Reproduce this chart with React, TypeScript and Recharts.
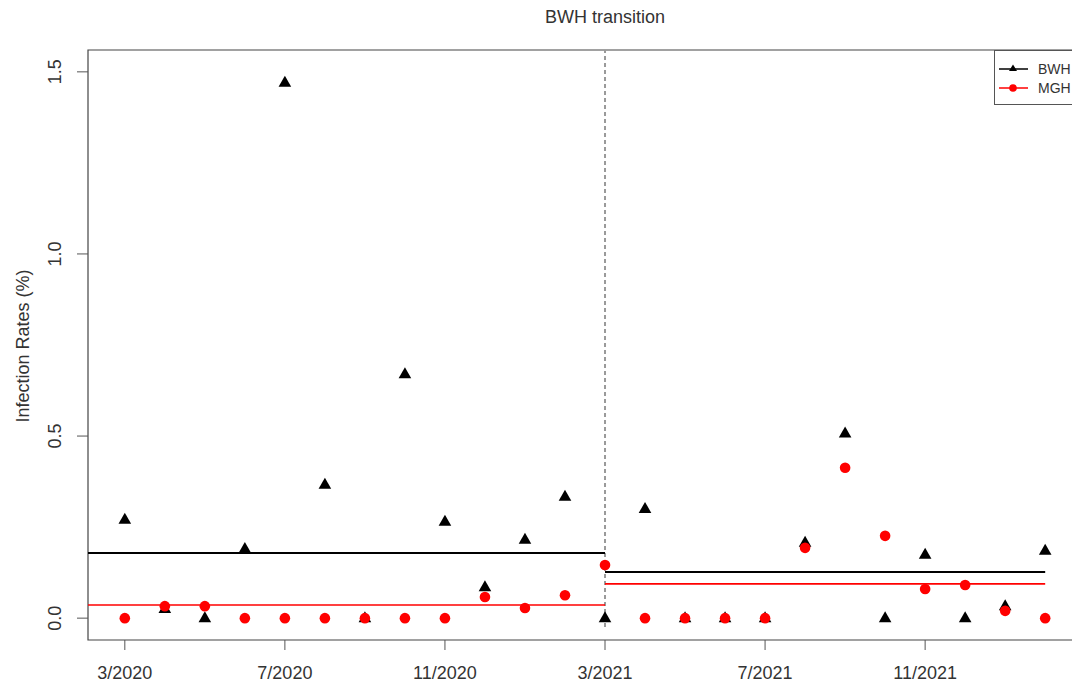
import React from 'react';
import {
  ComposedChart,
  Scatter,
  XAxis,
  YAxis,
  ReferenceLine,
  ReferenceArea,
} from 'recharts';

// Month index (0 = 3/2020 ... 23 = 2/2022)
const monthIndex = [0, 1, 2, 3, 4, 5, 6, 7, 8, 9, 10, 11, 12, 13, 14, 15, 16, 17, 18, 19, 20, 21, 22, 23];
const bwhRates = [0.27, 0.025, 0.0, 0.19, 1.47, 0.366, 0.0, 0.67, 0.265, 0.085, 0.215, 0.333, 0.0, 0.30, 0.0, 0.0, 0.0, 0.207, 0.507, 0.0, 0.174, 0.0, 0.033, 0.185];
const mghRates = [0.0, 0.033, 0.033, 0.0, 0.0, 0.0, 0.0, 0.0, 0.0, 0.058, 0.028, 0.063, 0.146, 0.0, 0.0, 0.0, 0.0, 0.193, 0.413, 0.226, 0.08, 0.091, 0.02, 0.0];

const xTickPositions = [0, 4, 8, 12, 16, 20];
const xTickLabels = ['3/2020', '7/2020', '11/2020', '3/2021', '7/2021', '11/2021'];
const yTickValues = [0, 0.5, 1.0, 1.5];
const yTickLabels = ['0.0', '0.5', '1.0', '1.5'];

const transitionIndex = 12;
const preMeans = { bwh: 0.179, mgh: 0.036 };
const postMeans = { bwh: 0.127, mgh: 0.094 };

const xDomain = [-0.92, 23.92];
const yDomain = [-0.06, 1.56];

const bwhData = monthIndex.map((m, i) => ({ x: m, y: bwhRates[i] }));
const mghData = monthIndex.map((m, i) => ({ x: m, y: mghRates[i] }));

const FONT = '"Liberation Sans", Arial, Helvetica, sans-serif';
const TEXT = '#333';
const FS = 18;

const Triangle = (props: any) => {
  const { cx, cy } = props;
  if (cx == null || cy == null) return null;
  return (
    <polygon
      points={`${cx},${cy - 7} ${cx - 6.3},${cy + 4} ${cx + 6.3},${cy + 4}`}
      fill="#000"
    />
  );
};

const Dot = (props: any) => {
  const { cx, cy } = props;
  if (cx == null || cy == null) return null;
  return <circle cx={cx} cy={cy} r={5.3} fill="#ff0000" />;
};

const YTick = (props: any) => {
  const { y, payload, index } = props;
  const label = yTickLabels[index] ?? String(payload.value);
  return (
    <text
      x={55}
      y={y}
      transform={`rotate(-90, 55, ${y})`}
      textAnchor="middle"
      dominantBaseline="central"
      fontSize={FS}
      fontFamily={FONT}
      fill={TEXT}
    >
      {label}
    </text>
  );
};

const XTick = (props: any) => {
  const { x, payload, index } = props;
  const label = xTickLabels[index] ?? String(payload.value);
  return (
    <text
      x={x}
      y={673}
      textAnchor="middle"
      dominantBaseline="central"
      fontSize={FS}
      fontFamily={FONT}
      fill={TEXT}
    >
      {label}
    </text>
  );
};

const TransitionLine = (props: any) => {
  const { x1, y1, x2, y2 } = props;
  return (
    <g>
      <line
        x1={x1}
        y1={y1 - 13}
        x2={x2}
        y2={y2}
        stroke="#9a9a9a"
        strokeWidth={2}
        strokeDasharray="4 3"
      />
      <text
        x={x1}
        y={17}
        textAnchor="middle"
        dominantBaseline="central"
        fontSize={FS}
        fontFamily={FONT}
        fill={TEXT}
      >
        BWH transition
      </text>
    </g>
  );
};

export default function App() {
  return (
    <div
      style={{
        position: 'absolute',
        left: 0,
        top: 0,
        width: 1072,
        height: 684,
        overflow: 'hidden',
        background: '#fff',
        fontFamily: FONT,
      }}
    >
      <ComposedChart
        width={1100}
        height={684}
        margin={{ top: 50, right: 18, bottom: 0, left: 0 }}
      >
        <XAxis
          type="number"
          dataKey="x"
          domain={xDomain}
          ticks={xTickPositions}
          allowDataOverflow
          axisLine={false}
          tickLine={{ stroke: '#555' }}
          tickSize={10}
          tick={<XTick />}
          height={44}
        />
        <YAxis
          type="number"
          dataKey="y"
          domain={yDomain}
          ticks={yTickValues}
          allowDataOverflow
          axisLine={false}
          tickLine={{ stroke: '#555' }}
          tickSize={11}
          tick={<YTick />}
          width={88}
        />
        <ReferenceArea
          x1={xDomain[0]}
          x2={xDomain[1]}
          y1={yDomain[0]}
          y2={yDomain[1]}
          fill="none"
          stroke="#444"
          strokeWidth={1.2}
          ifOverflow="visible"
        />
        <ReferenceLine
          x={transitionIndex}
          shape={<TransitionLine />}
          ifOverflow="visible"
        />
        <ReferenceLine
          segment={[{ x: xDomain[0], y: preMeans.bwh }, { x: transitionIndex, y: preMeans.bwh }]}
          stroke="#000"
          strokeWidth={2}
          ifOverflow="visible"
        />
        <ReferenceLine
          segment={[{ x: xDomain[0], y: preMeans.mgh }, { x: transitionIndex, y: preMeans.mgh }]}
          stroke="#ff0000"
          strokeWidth={1.6}
          ifOverflow="visible"
        />
        <ReferenceLine
          segment={[{ x: transitionIndex, y: postMeans.bwh }, { x: 23, y: postMeans.bwh }]}
          stroke="#000"
          strokeWidth={2}
          ifOverflow="visible"
        />
        <ReferenceLine
          segment={[{ x: transitionIndex, y: postMeans.mgh }, { x: 23, y: postMeans.mgh }]}
          stroke="#ff0000"
          strokeWidth={1.6}
          ifOverflow="visible"
        />
        <Scatter
          name="BWH"
          data={bwhData}
          shape={<Triangle />}
          isAnimationActive={false}
        />
        <Scatter
          name="MGH"
          data={mghData}
          shape={<Dot />}
          isAnimationActive={false}
        />
      </ComposedChart>

      <div
        style={{
          position: 'absolute',
          left: 23,
          top: 346,
          transform: 'translate(-50%, -50%) rotate(-90deg)',
          whiteSpace: 'nowrap',
          fontSize: FS,
          lineHeight: '20px',
          color: TEXT,
        }}
      >
        Infection Rates (%)
      </div>

      <div
        style={{
          position: 'absolute',
          left: 994,
          top: 50,
          width: 100,
          height: 55,
          border: '1px solid #555',
          boxSizing: 'border-box',
          background: '#fff',
          fontSize: 14,
          color: TEXT,
        }}
      >
        <svg width={40} height={55} style={{ position: 'absolute', left: 0, top: 0 }}>
          <line x1={4} y1={18} x2={33} y2={18} stroke="#000" strokeWidth={1.5} />
          <polygon points="18,13.5 14,20 22,20" fill="#000" />
          <line x1={4} y1={37} x2={33} y2={37} stroke="#ff0000" strokeWidth={1.5} />
          <circle cx={18} cy={37} r={3.8} fill="#ff0000" />
        </svg>
        <div style={{ position: 'absolute', left: 43, top: 10, lineHeight: '16px' }}>BWH</div>
        <div style={{ position: 'absolute', left: 43, top: 29, lineHeight: '16px' }}>MGH</div>
      </div>
    </div>
  );
}
